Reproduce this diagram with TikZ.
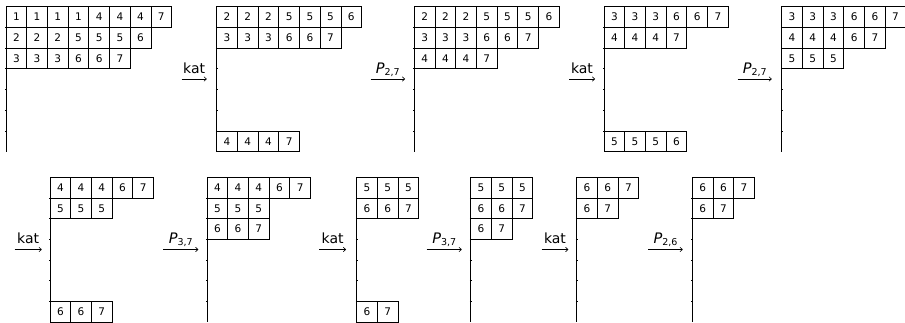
\documentclass[tikz,border=0pt]{standalone}
\usepackage{fontspec}
\setmainfont{DejaVu Sans}
\usetikzlibrary{arrows.meta}
\def\cs{20.7}
\tikzset{
  cell/.style={draw, line width=0.8pt, minimum size=20.7pt, inner sep=0pt, font=\fontsize{10.5}{10.5}\selectfont},
  axisline/.style={line width=0.8pt},
  maparr/.style={line width=0.6pt, -{To[length=3pt,width=5pt]}},
  arrlab/.style={anchor=base, inner sep=0pt, font=\fontsize{14}{14}\selectfont}
}
% #1 name, #2 x, #3 ytop, #4 row index, #5 entries
\newcommand\tabrow[5]{\foreach \v [count=\c from 0] in {#5} {\node[cell] (#1-#4-\c) at ({#2+(\c+0.5)*\cs},{#3+(#4+0.5)*\cs}) {\v};}}
% #1 name, #2 x, #3 ytop
\newcommand\tabaxis[3]{%
  \coordinate (#1-top) at (#2,#3);
  \coordinate (#1-bot) at (#2,{#3+7*\cs});
  \draw[axisline] (#1-top) -- (#1-bot);
  \foreach \k in {1,...,6}{\draw[axisline] ({#2-0.9},{#3+\k*\cs}) -- ({#2+0.9},{#3+\k*\cs});}}
% #1 name, #2 x1, #3 x2, #4 y, #5 label
\newcommand\maparrow[5]{%
  \coordinate (#1-s) at (#2,#4);
  \coordinate (#1-e) at (#3,#4);
  \draw[maparr] (#1-s) -- (#1-e);
  \node[arrlab] (#1-lab) at ({(#2+#3)/2},{#4-6}) {#5};}
\newcommand\Plab[2]{{\fontsize{14.5}{14.5}\selectfont\itshape P}\raisebox{-2pt}{\fontsize{9.5}{9.5}\selectfont #1,#2}}
\begin{document}
\begin{tikzpicture}[x=1pt,y=-1pt]
\useasboundingbox (0,0) rectangle (905,322);
% top row
\tabaxis{t1}{6}{6.7}
\tabrow{t1}{6}{6.7}{0}{1,1,1,1,4,4,4,7}
\tabrow{t1}{6}{6.7}{1}{2,2,2,5,5,5,6}
\tabrow{t1}{6}{6.7}{2}{3,3,3,6,6,7}
\maparrow{a1}{181.7}{206.7}{79}{kat}
\tabaxis{t2}{216.7}{6.7}
\tabrow{t2}{216.7}{6.7}{0}{2,2,2,5,5,5,6}
\tabrow{t2}{216.7}{6.7}{1}{3,3,3,6,6,7}
\tabrow{t2}{216.7}{6.7}{6}{4,4,4,7}
\maparrow{a2}{370.7}{405}{79}{\Plab{2}{7}}
\tabaxis{t3}{414.3}{6.7}
\tabrow{t3}{414.3}{6.7}{0}{2,2,2,5,5,5,6}
\tabrow{t3}{414.3}{6.7}{1}{3,3,3,6,6,7}
\tabrow{t3}{414.3}{6.7}{2}{4,4,4,7}
\maparrow{a3}{569}{595}{79}{kat}
\tabaxis{t4}{604}{6.7}
\tabrow{t4}{604}{6.7}{0}{3,3,3,6,6,7}
\tabrow{t4}{604}{6.7}{1}{4,4,4,7}
\tabrow{t4}{604}{6.7}{6}{5,5,5,6}
\maparrow{a4}{737.7}{771.7}{79}{\Plab{2}{7}}
\tabaxis{t5}{781.7}{6.7}
\tabrow{t5}{781.7}{6.7}{0}{3,3,3,6,6,7}
\tabrow{t5}{781.7}{6.7}{1}{4,4,4,6,7}
\tabrow{t5}{781.7}{6.7}{2}{5,5,5}
% bottom row
\maparrow{a5}{14.7}{41.7}{249.5}{kat}
\tabaxis{b1}{50}{177.3}
\tabrow{b1}{50}{177.3}{0}{4,4,4,6,7}
\tabrow{b1}{50}{177.3}{1}{5,5,5}
\tabrow{b1}{50}{177.3}{6}{6,6,7}
\maparrow{a6}{163.3}{198.3}{249.5}{\Plab{3}{7}}
\tabaxis{b2}{207}{177.3}
\tabrow{b2}{207}{177.3}{0}{4,4,4,6,7}
\tabrow{b2}{207}{177.3}{1}{5,5,5}
\tabrow{b2}{207}{177.3}{2}{6,6,7}
\maparrow{a7}{319.3}{346}{249.5}{kat}
\tabaxis{b3}{356.7}{177.3}
\tabrow{b3}{356.7}{177.3}{0}{5,5,5}
\tabrow{b3}{356.7}{177.3}{1}{6,6,7}
\tabrow{b3}{356.7}{177.3}{6}{6,7}
\maparrow{a8}{426.7}{461.7}{249.5}{\Plab{3}{7}}
\tabaxis{b4}{470.7}{177.3}
\tabrow{b4}{470.7}{177.3}{0}{5,5,5}
\tabrow{b4}{470.7}{177.3}{1}{6,6,7}
\tabrow{b4}{470.7}{177.3}{2}{6,7}
\maparrow{a9}{541.7}{568.3}{249.5}{kat}
\tabaxis{b5}{576.7}{177.3}
\tabrow{b5}{576.7}{177.3}{0}{6,6,7}
\tabrow{b5}{576.7}{177.3}{1}{6,7}
\maparrow{a10}{648.3}{682.7}{249.5}{\Plab{2}{6}}
\tabaxis{b6}{692.3}{177.3}
\tabrow{b6}{692.3}{177.3}{0}{6,6,7}
\tabrow{b6}{692.3}{177.3}{1}{6,7}
\end{tikzpicture}
\end{document}
